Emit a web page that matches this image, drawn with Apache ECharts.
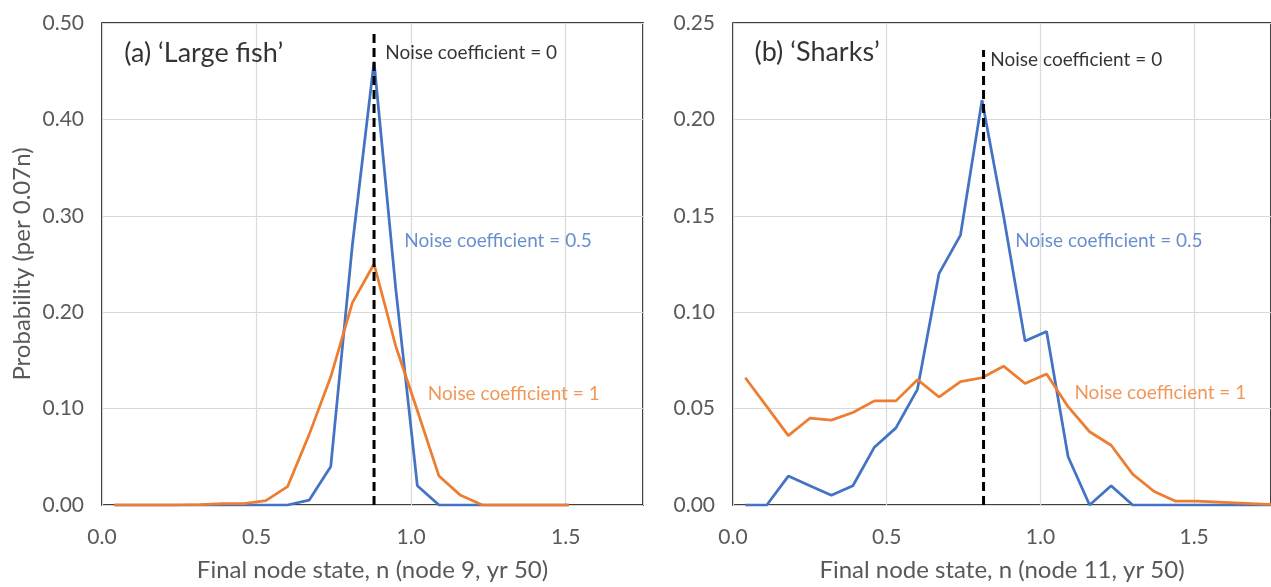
<!DOCTYPE html>
<html>
<head>
<meta charset="utf-8">
<script src="https://cdn.jsdelivr.net/npm/echarts@6/dist/echarts.min.js"></script>
<style>
html,body{margin:0;padding:0;background:#fff;}
#chart{width:1271px;height:587px;}
</style>
</head>
<body>
<div id="chart"></div>
<script>
// ---- data ----
const binCentres = [0.04, 0.11, 0.18, 0.25, 0.32, 0.39, 0.46, 0.53, 0.60, 0.67, 0.74, 0.81, 0.88,
  0.95, 1.02, 1.09, 1.16, 1.23, 1.30, 1.37, 1.44, 1.51, 1.58, 1.65, 1.72, 1.79];

const largeFishNoise05 = [0, 0, 0, 0, 0, 0, 0, 0, 0, 0.005, 0.04, 0.27, 0.46, 0.225, 0.02, 0, 0, 0, 0, 0, 0, 0];
const largeFishNoise1  = [0, 0, 0, 0, 0.0005, 0.0015, 0.0015, 0.0045, 0.019, 0.073, 0.133, 0.21, 0.25, 0.165, 0.098, 0.03, 0.01, 0, 0, 0, 0, 0];

const sharksNoise05 = [0, 0, 0.015, 0.01, 0.005, 0.01, 0.03, 0.04, 0.06, 0.12, 0.14, 0.21, 0.15, 0.085, 0.09, 0.025, 0, 0.01, 0, 0, 0, 0, 0, 0, 0, 0];
const sharksNoise1  = [0.066, 0.051, 0.036, 0.045, 0.044, 0.048, 0.054, 0.054, 0.065, 0.056, 0.064, 0.066, 0.072, 0.063, 0.068, 0.051, 0.038, 0.031, 0.016, 0.007, 0.002, 0.002, 0.0015, 0.001, 0.0005, 0];

// noise coefficient = 0 (deterministic) result: x position and top of the dashed marker
const noise0LargeFish = [0.88, 0.49];
const noise0Sharks    = [0.815, 0.236];

const panelTitles = ['(a) \u2018Large fish\u2019', '(b) \u2018Sharks\u2019'];
const seriesLabels = ['Noise coefficient = 0', 'Noise coefficient = 0.5', 'Noise coefficient = 1'];
const xAxisTitles = ['Final node state, n (node 9, yr 50)', 'Final node state, n (node 11, yr 50)'];
const yAxisTitle = 'Probability (per 0.07n)';
const yMaxes = [0.5, 0.25];
const yIntervals = [0.1, 0.05];

// ---- annotation anchors (data coordinates) ----
const annotA = [[0.072, 0.469], [0.916, 0.469], [0.978, 0.274], [1.054, 0.115]];
const annotB = [[0.070, 0.2348], [0.837, 0.2307], [0.918, 0.1372], [1.1105, 0.0584]];

// ---- styles ----
const BLUE = '#4472C4', ORANGE = '#ED7D31', GRAY = '#595959', GRID = '#d9d9d9';
const FONT = 'Lato';

function pairs(xs, ys) { return ys.map((v, i) => [xs[i], v]); }

function makeX(idx) {
  return {
    type: 'value', gridIndex: idx, min: 0, max: 1.75, interval: 0.5,
    axisLine: { show: false }, axisTick: { show: false },
    axisLabel: { color: GRAY, fontSize: 21, fontFamily: FONT, margin: 22, showMaxLabel: false,
      formatter: v => v.toFixed(1) },
    splitLine: { show: true, lineStyle: { color: GRID, width: 1.2 } },
    name: xAxisTitles[idx], nameLocation: 'middle', nameGap: 53,
    nameTextStyle: { color: GRAY, fontSize: 24, fontFamily: FONT }
  };
}
function makeY(idx) {
  return {
    type: 'value', gridIndex: idx, min: 0, max: yMaxes[idx], interval: yIntervals[idx],
    axisLine: { show: false }, axisTick: { show: false },
    axisLabel: { color: GRAY, fontSize: 21, fontFamily: FONT, margin: 18,
      formatter: v => v.toFixed(2) },
    splitLine: { show: true, lineStyle: { color: GRID, width: 1.2 } },
    name: idx === 0 ? yAxisTitle : '', nameLocation: 'middle', nameGap: 68,
    nameTextStyle: { color: GRAY, fontSize: 24, fontFamily: FONT }
  };
}
function lineSeries(idx, data, color) {
  return { type: 'line', xAxisIndex: idx, yAxisIndex: idx, data: data, symbol: 'none',
    lineStyle: { color: color, width: 2.75 }, itemStyle: { color: color }, animation: false, z: 3 };
}
function dashSeries(idx, peak) {
  return { type: 'line', xAxisIndex: idx, yAxisIndex: idx, data: [[peak[0], 0], [peak[0], peak[1]]],
    symbol: 'none', lineStyle: { color: '#000', width: 3, type: [9, 5] }, animation: false, z: 4 };
}
function annotSeries(idx, anchors) {
  const texts = [panelTitles[idx]].concat(seriesLabels);
  const colors = ['#000', '#000', BLUE, ORANGE];
  const sizes = [27, 19, 19, 19];
  return { type: 'scatter', xAxisIndex: idx, yAxisIndex: idx, symbolSize: 0, animation: false, z: 5,
    silent: true,
    data: anchors.map((a, i) => ({ value: a, label: { show: true, position: 'right', distance: 0,
      formatter: texts[i], color: colors[i], fontSize: sizes[i], fontFamily: FONT } })) };
}

const chart = echarts.init(document.getElementById('chart'), null, { renderer: 'canvas' });
chart.setOption({
  backgroundColor: '#fff',
  textStyle: { fontFamily: FONT },
  grid: [
    { left: 102, top: 23, width: 541, height: 484, show: true, borderColor: '#000', borderWidth: 1.6 },
    { left: 733, top: 23, right: -2, height: 484, show: true, borderColor: '#000', borderWidth: 1.6 }
  ],
  xAxis: [makeX(0), makeX(1)],
  yAxis: [makeY(0), makeY(1)],
  series: [
    lineSeries(0, pairs(binCentres, largeFishNoise05), BLUE),
    lineSeries(0, pairs(binCentres, largeFishNoise1), ORANGE),
    dashSeries(0, noise0LargeFish),
    annotSeries(0, annotA),
    lineSeries(1, pairs(binCentres, sharksNoise05), BLUE),
    lineSeries(1, pairs(binCentres, sharksNoise1), ORANGE),
    dashSeries(1, noise0Sharks),
    annotSeries(1, annotB)
  ]
});
</script>
</body>
</html>
